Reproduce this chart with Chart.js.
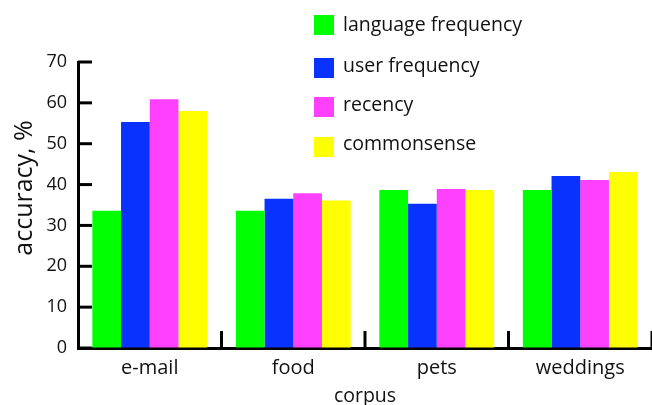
<!DOCTYPE html>
<html>
<head>
<meta charset="utf-8">
<script src="https://cdn.jsdelivr.net/npm/chart.js@4"></script>
<style>
  body { margin: 0; background: #fff; }
</style>
</head>
<body>
<canvas id="accChart" width="652" height="405"></canvas>
<script>
const corpora = ["e-mail", "food", "pets", "weddings"];
const seriesNames = ["language frequency", "user frequency", "recency", "commonsense"];
const languageFreq = [33.6, 33.6, 38.7, 38.7];
const userFreq = [55.3, 36.5, 35.3, 42.1];
const recency = [60.9, 37.9, 38.9, 41.1];
const commonsense = [58.0, 36.1, 38.7, 43.1];
const yTicks = [0, 10, 20, 30, 40, 50, 60, 70];

const colors = ["#00ff00", "#0a32ff", "#ff40ff", "#ffff00"];
const FONT = "'Open Sans', sans-serif";

// inward tick marks on both axes + separators between corpora
const tickMarks = {
    id: "tickMarks",
    afterDatasetsDraw: function (chart) {
        const ctx = chart.ctx;
        const area = chart.chartArea;
        const x = chart.scales.x;
        const y = chart.scales.y;
        ctx.save();
        ctx.strokeStyle = "#000";
        ctx.lineWidth = 3;
        yTicks.forEach(function (v) {
            const py = y.getPixelForValue(v);
            ctx.beginPath();
            ctx.moveTo(area.left, py);
            ctx.lineTo(area.left + 14, py);
            ctx.stroke();
        });
        for (let i = 1; i <= corpora.length; i++) {
            const px = x.getPixelForValue(i - 0.5);
            ctx.beginPath();
            ctx.moveTo(px, area.bottom);
            ctx.lineTo(px, area.bottom - 17);
            ctx.stroke();
        }
        ctx.restore();
    }
};

// legend over the top right of the plot, y title sits a bit above centre
const boxLegend = {
    id: "boxLegend",
    afterDraw: function (chart) {
        const ctx = chart.ctx;
        const tops = [15, 58, 97, 137];
        const bases = [31, 72, 111, 150];
        ctx.save();
        ctx.font = "19.5px " + FONT;
        ctx.textBaseline = "alphabetic";
        ctx.textAlign = "left";
        chart.data.datasets.forEach(function (ds, i) {
            ctx.fillStyle = ds.backgroundColor;
            ctx.fillRect(314, tops[i], 20, 20);
            ctx.fillStyle = "#111";
            ctx.fillText(ds.label, 343, bases[i]);
        });

        ctx.translate(25, 188);
        ctx.rotate(-Math.PI / 2);
        ctx.font = "25px " + FONT;
        ctx.textAlign = "center";
        ctx.textBaseline = "middle";
        ctx.fillText("accuracy, %", 0, 0);
        ctx.restore();
    }
};

const ctx = document.getElementById("accChart").getContext("2d");

new Chart(ctx, {
    type: "bar",
    data: {
        labels: corpora,
        datasets: [
            { label: seriesNames[0], data: languageFreq, backgroundColor: colors[0] },
            { label: seriesNames[1], data: userFreq, backgroundColor: colors[1] },
            { label: seriesNames[2], data: recency, backgroundColor: colors[2] },
            { label: seriesNames[3], data: commonsense, backgroundColor: colors[3] }
        ]
    },
    options: {
        responsive: false,
        animation: false,
        categoryPercentage: 0.8,
        barPercentage: 1.0,
        layout: {
            padding: { top: 62, right: 0, bottom: 0, left: 0 }
        },
        plugins: {
            legend: { display: false },
            tooltip: { enabled: false }
        },
        scales: {
            x: {
                afterFit: function (scale) { scale.height = 57; },
                grid: { display: false },
                border: { display: true, color: "#000", width: 3 },
                ticks: {
                    padding: 0,
                    color: "#111",
                    font: { family: FONT, size: 20 }
                },
                title: {
                    display: true,
                    text: "corpus",
                    color: "#111",
                    padding: { top: 0, bottom: -3 },
                    font: { family: FONT, size: 19.5 }
                }
            },
            y: {
                min: 0,
                max: 70,
                afterFit: function (scale) { scale.width = 78; },
                grid: { display: true, drawOnChartArea: false, drawTicks: false },
                border: { display: true, color: "#000", width: 3 },
                ticks: {
                    stepSize: 10,
                    padding: 11,
                    color: "#111",
                    font: { family: FONT, size: 18 }
                },
                title: { display: false }
            }
        }
    },
    plugins: [tickMarks, boxLegend]
});
</script>
</body>
</html>
